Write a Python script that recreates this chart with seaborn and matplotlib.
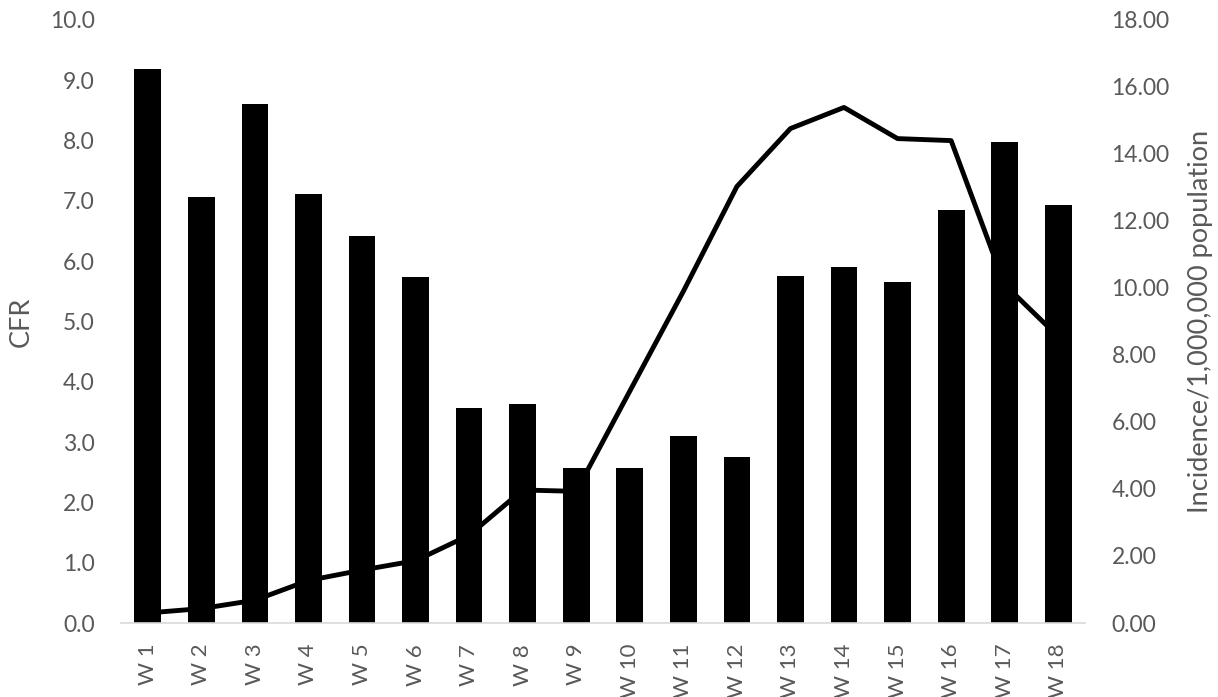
import matplotlib
matplotlib.use("Agg")
import matplotlib.pyplot as plt
import seaborn as sns
import numpy as np
import pandas as pd

weeks = ["W 1", "W 2", "W 3", "W 4", "W 5", "W 6", "W 7", "W 8", "W 9",
         "W 10", "W 11", "W 12", "W 13", "W 14", "W 15", "W 16", "W 17", "W 18"]
cfr = [9.19, 7.07, 8.61, 7.11, 6.42, 5.74, 3.57, 3.63, 2.57,
       2.57, 3.10, 2.75, 5.75, 5.90, 5.65, 6.85, 7.98, 6.93]
incidence = [0.30, 0.43, 0.68, 1.27, 1.58, 1.86, 2.62, 3.97, 3.93,
             6.92, 9.90, 13.03, 14.76, 15.39, 14.46, 14.40, 10.10, 8.55]
cfr_ticks = [0, 1, 2, 3, 4, 5, 6, 7, 8, 9, 10]
inc_ticks = [0, 2, 4, 6, 8, 10, 12, 14, 16, 18]

sns.set_theme(style="white")
plt.rcParams["font.family"] = ["Lato", "DejaVu Sans"]

df = pd.DataFrame({"week": weeks, "cfr": cfr, "incidence": incidence,
                   "pos": np.arange(len(weeks))})

gray = "#595959"
fs = 16.5
fs_title = 19.5

fig = plt.figure(figsize=(12.18, 6.97), dpi=100)
ax = fig.add_axes([121 / 1218, 1 - 623 / 697, 964 / 1218, 603 / 697])
ax2 = ax.twinx()

# line (incidence) drawn behind the bars
sns.lineplot(data=df, x="pos", y="incidence", ax=ax2, color="black",
             linewidth=3.5, sort=False, solid_joinstyle="round",
             solid_capstyle="butt")
sns.barplot(data=df, x="week", y="cfr", ax=ax, color="black", width=0.5,
            saturation=1, edgecolor="none")

ax.set_zorder(ax2.get_zorder() + 1)
ax.patch.set_visible(False)

ax.set_xlim(-0.5, len(weeks) - 0.5)
ax.set_ylim(0, 10)
ax2.set_ylim(0, 18)
ax.set_yticks(cfr_ticks)
ax.set_yticklabels([f"{v:.1f}" for v in cfr_ticks])
ax2.set_yticks(inc_ticks)
ax2.set_yticklabels([f"{v:.2f}" for v in inc_ticks])

ax.tick_params(axis="y", length=0, pad=19, labelsize=fs, labelcolor=gray)
ax2.tick_params(axis="y", length=0, pad=19, labelsize=fs, labelcolor=gray)
ax.tick_params(axis="x", length=0, pad=15, labelsize=16, labelcolor=gray,
               labelrotation=90)

ax.set_xlabel("")
ax.set_ylabel("CFR", fontsize=fs_title, color=gray)
ax2.set_ylabel("Incidence/1,000,000 population", fontsize=fs_title, color=gray)
ax.yaxis.set_label_coords(-0.091, 0.5)
ax2.yaxis.set_label_coords(1.107, 0.5)

for s in ["top", "left", "right"]:
    ax.spines[s].set_visible(False)
for s in ax2.spines.values():
    s.set_visible(False)
ax.spines["bottom"].set_color("#D9D9D9")
ax.spines["bottom"].set_linewidth(1.2)
ax.grid(False)
ax2.grid(False)

fig.savefig("out.png", dpi=100)
